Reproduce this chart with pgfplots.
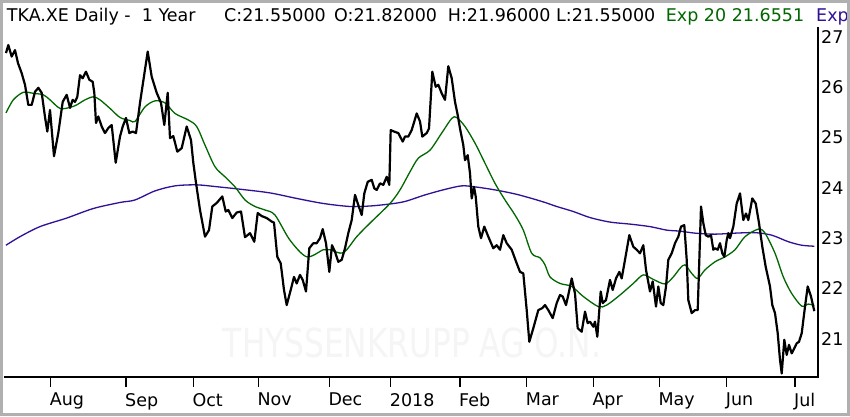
\documentclass[border=0pt]{standalone}
\usepackage{pgfplots}
\pgfplotsset{compat=1.18}
\usepackage{fontspec}
\setmainfont{DejaVu Sans}
\definecolor{emagreen}{RGB}{0,102,0}
\definecolor{emablue}{RGB}{48,16,150}
\definecolor{framegray}{RGB}{176,176,176}
\definecolor{wmgray}{RGB}{245,245,245}
\begin{document}
\begin{tikzpicture}[x=1pt,y=1pt]
\useasboundingbox (0,0) rectangle (850,416);
\fill[white] (0,0) rectangle (850,416);
\node[anchor=center, text=wmgray, inner sep=0pt] at (412,73) {\scalebox{0.78}[1]{\fontsize{40}{40}\selectfont THYSSENKRUPP AG O.N.}};
\begin{axis}[
  at={(4pt,39pt)}, anchor=south west,
  scale only axis, width=814pt, height=347pt,
  xmin=4, xmax=818, ymin=20.24, ymax=27.139,
  axis x line*=bottom, axis y line*=right,
  axis line style={line width=2pt, black},
  clip=true,
  xtick={50.7,126,193.3,258.3,329.3,390.7,460,526.7,593.3,659.3,726.7,795},
  xticklabels={Aug,Sep,Oct,Nov,Dec,2018,Feb,Mar,Apr,May,Jun,Jul},
  ytick={21,22,23,24,25,26,27},
  tick align=outside,
  major tick length=10pt,
  xtick style={line width=1.5pt, black},
  ytick style={draw=none},
  /pgf/number format/assume math mode=true,
  tick label style={font=\fontsize{17.5}{20}\selectfont, text=black},
  xticklabel style={anchor=north west, inner sep=0pt, xshift=-1pt, yshift=-6pt},
  yticklabel style={anchor=west, inner sep=0pt, xshift=-7pt},
]
% Exp 200 (blue)
\addplot[emablue, line width=1.3pt, smooth] coordinates {
(6,22.86) (20,23.03) (40,23.23) (66.7,23.40) (93.3,23.59) (120,23.71) (135,23.76)
(155,23.94) (175,24.04) (196.7,24.06) (218.3,24.02) (241.7,23.97) (270,23.90)
(296.7,23.79) (323.3,23.69) (350,23.63) (370,23.64) (390,23.68) (405,23.73)
(425,23.86) (445,23.97) (461.7,24.04) (475,24.02) (495,23.96) (515,23.88)
(531.7,23.79) (545,23.71) (556.7,23.63) (573.3,23.53) (590,23.41) (610,23.32)
(630,23.28) (650,23.23) (666.7,23.16) (680,23.14) (695,23.10) (715,23.08)
(735,23.10) (755,23.11) (771.7,23.06) (788.3,22.93) (801.7,22.86) (814.3,22.84)
};
% Exp 20 (green)
\addplot[emagreen, line width=1.3pt, smooth] coordinates {
(6,25.49) (13.3,25.75) (23.3,25.90) (33.3,25.88) (43.3,25.85) (50,25.75)
(60,25.58) (70,25.60) (76.7,25.65) (85,25.75) (93.3,25.81) (100,25.75)
(110,25.58) (120,25.40) (130,25.34) (135,25.32) (145,25.61) (155,25.73)
(165,25.69) (175,25.48) (188.3,25.35) (196.7,25.22) (205,24.85) (215,24.42)
(225,24.22) (235,24.02) (245,23.76) (255,23.63) (265,23.56) (275,23.46)
(290,22.96) (306.7,22.63) (323.3,22.77) (330,22.77) (343.3,22.71) (356.7,23.03)
(370,23.30) (390,23.69) (400,23.96) (410,24.32) (418.3,24.59) (430,24.75)
(441.7,25.09) (451.7,25.38) (456.7,25.40) (465,25.22) (475,24.89) (485,24.49)
(495,24.09) (505,23.76) (515,23.46) (523.3,23.16) (531.7,22.70) (540,22.61)
(545,22.47) (550,22.23) (560,22.10) (571.7,22.04) (583.3,21.84) (598.3,21.64)
(606.7,21.67) (620,21.87) (633.3,22.10) (643.3,22.27) (653.3,22.18) (665,22.09)
(673.3,22.23) (680,22.40) (685,22.47) (691.7,22.30) (697.7,22.20) (705,22.37)
(715,22.53) (725,22.63) (735,22.77) (745,23.03) (758.3,23.18) (765,23.10)
(775,22.70) (783.3,22.23) (791.7,21.90) (801.7,21.65) (808.3,21.69) (814.3,21.66)
};
% Close price (black)
\addplot[black, line width=2.2pt, line join=round] coordinates {
(6,26.68) (8.3,26.84) (11.7,26.61) (15,26.74) (18,26.48) (21.7,26.28) (25,26.05)
(28.3,25.65) (31.7,25.65) (35,25.91) (38.3,25.99) (41.7,25.89) (45,25.41)
(47.3,25.12) (50,25.55) (54,24.63) (58.3,25.09) (62.7,25.71) (66.7,25.85)
(70,25.59) (72.7,25.75) (75,25.71) (77.3,25.81) (80,26.24) (82.7,26.18)
(86,26.31) (89.3,26.15) (92.7,26.11) (94.3,25.89) (96,25.29) (98.3,25.42)
(101.7,25.22) (105,25.09) (108.3,25.19) (111.7,25.25) (115.7,24.50) (120,25.02)
(122.7,25.22) (126,25.39) (129.3,25.09) (132.7,25.12) (136,25.09) (140,25.69)
(147.7,26.71) (151.7,26.21) (156.7,25.89) (161,25.69) (164.3,25.25) (167.7,25.89)
(170,24.99) (173.3,25.03) (177.3,24.72) (181.7,24.79) (186.7,25.22) (191,24.95)
(193.3,24.50) (196,24.10) (200,23.56) (205,23.03) (209,23.16) (212.3,23.63)
(216.7,23.70) (222.3,23.83) (225.7,23.53) (228.3,23.56) (232.3,23.40) (236.7,23.51)
(241,23.53) (245,23.02) (250,23.10) (254.3,22.93) (257.7,23.50) (261.7,23.44)
(266.7,23.40) (271.7,23.33) (274,23.31) (277.3,22.63) (280.7,22.50) (284,21.97)
(286.7,21.67) (290.7,21.97) (294,22.23) (296.7,22.10) (300,22.27) (302.7,22.17)
(306,21.94) (309.3,22.80) (313.3,22.90) (316.7,22.90) (320,23.00) (322.7,23.18)
(326,22.90) (329.3,22.33) (332,22.86) (335,22.73) (338.3,22.53) (341.7,22.57)
(345,22.80) (348.3,23.10) (351.7,23.36) (355,23.86) (358.3,23.66) (361.7,23.46)
(364.3,23.89) (367.7,24.12) (371.7,24.16) (374.3,23.99) (376.7,23.96) (380,24.09)
(383.3,24.06) (386.7,24.22) (389.3,24.06) (390.7,25.15) (394,25.12) (398.3,25.09)
(402.7,24.92) (405,25.02) (408.3,25.02) (411.7,25.15) (416.7,25.48) (420,25.32)
(422.3,25.02) (426.7,25.09) (429,25.18) (432.3,26.31) (435.7,26.01) (438.3,26.05)
(441.7,25.88) (445,25.75) (448.3,26.42) (451.7,26.18) (455,25.71) (457.7,25.45)
(460,25.18) (463.3,24.85) (465,24.55) (467.7,24.65) (470,24.29) (471.7,23.79)
(474,24.02) (475.7,23.83) (478.3,23.23) (481,23.00) (484.3,23.23) (488.3,23.03)
(493.3,22.80) (496.7,22.86) (500,22.77) (503.3,23.06) (506.7,22.90) (511.7,22.77)
(516.7,22.50) (520,22.33) (523.3,22.30) (526.7,21.57) (529.3,20.94) (533.3,21.21)
(538.3,21.57) (542.3,21.61) (545,21.67) (548.3,21.57) (552.7,21.41) (556.7,21.71)
(560,21.87) (562.7,21.84) (566,21.67) (568.3,21.87) (571.7,22.20) (575,21.90)
(577.7,21.21) (581.7,21.14) (585,21.54) (587.7,21.31) (590,21.34) (593.3,21.24)
(595,21.34) (597.3,21.04) (600.7,21.94) (602.7,21.71) (606,21.77) (610,22.17)
(612.7,21.97) (616,22.20) (619.3,22.33) (621.7,22.20) (625,22.57) (629.3,23.06)
(633.3,22.83) (636.7,22.77) (640,22.70) (643.3,22.86) (646,22.37) (650,21.94)
(652.7,22.14) (656,21.64) (658.3,22.04) (660.7,21.71) (663.3,21.67) (666,22.04)
(668.3,22.57) (671.7,22.70) (675,22.90) (678.3,23.03) (681,23.23) (684.3,23.26)
(686.7,22.57) (688.3,21.77) (691.7,21.51) (695,21.57) (697.7,21.57) (699,22.37)
(701,23.63) (703.3,23.30) (705.7,23.06) (708.3,23.03) (711,23.06) (713.3,22.77)
(715,22.80) (717.7,22.77) (720,22.90) (722.3,22.70) (724.3,22.63) (726.7,22.96)
(728.3,23.10) (730,23.00) (733.3,23.23) (736.7,23.69) (740,23.89) (743.3,23.36)
(746,23.49) (748.3,23.36) (752.3,23.79) (755.7,23.69) (759,23.30) (762.3,22.83)
(765.7,22.43) (770,22.04) (772.3,21.67) (775,21.51) (777.7,21.11) (780,20.58)
(781.7,20.31) (784.3,20.98) (786.7,20.68) (789,20.88) (791.7,20.71) (794.3,20.81)
(796.7,20.91) (799,20.94) (801.7,21.11) (805,21.64) (807.7,22.04) (811,21.84)
(814.3,21.55)
};
\end{axis}
\draw[black, line width=2pt] (818,38) -- (818,389);
\begin{scope}[every node/.style={anchor=base west, inner sep=0pt, font=\fontsize{17.5}{20}\selectfont}]
\node at (6.7,394) {TKA.XE Daily -\ \ 1 Year};
\node at (224,394) {C:21.55000};
\node at (334,394) {O:21.82000};
\node at (447.7,394) {H:21.96000};
\node at (556,394) {L:21.55000};
\node[text=emagreen] at (665.7,394) {Exp 20 21.6551};
\node[text=emablue] at (816,394) {Exp};
\end{scope}
\draw[framegray, line width=3pt] (1.5,1.5) rectangle (848.5,414.5);
\end{tikzpicture}
\end{document}
